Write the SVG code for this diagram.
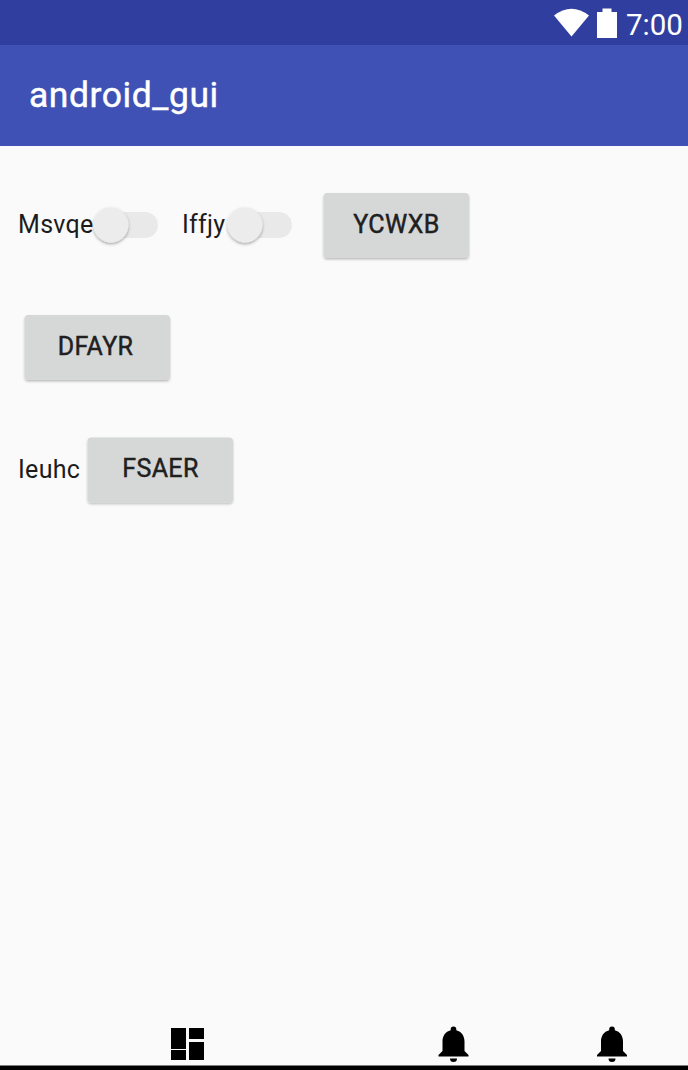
<svg xmlns="http://www.w3.org/2000/svg" width="688" height="1070" viewBox="0 0 688 1070">
<defs>
<filter id="sh" x="-30%" y="-30%" width="160%" height="170%"><feDropShadow dx="0" dy="1.5" stdDeviation="1.5" flood-color="#000" flood-opacity="0.35"/></filter>
<filter id="bs" x="-5%" y="-10%" width="110%" height="125%"><feDropShadow dx="0" dy="1.5" stdDeviation="0.8" flood-color="#000" flood-opacity="0.25"/></filter>
<g id="bell"><path d="M0 -18.500a2.800 2.800 0 0 1 2.800 2.800v0.900c5.400 1.400 8.200 5.800 8.200 11.300v9.500l4 4v1.600h-30v-1.600l4-4v-9.500c0-5.500 2.800-9.900 8.200-11.300v-0.900a2.800 2.800 0 0 1 2.800-2.800z"/><path d="M-3.500 13.500h7a3.500 3.500 0 0 1-7 0z"/></g>
</defs>
<style>
text{font-family:Roboto,"Noto Sans",sans-serif}
.lbl{font-size:25px;fill:#1c1c1c;letter-spacing:.3px}
.btn{font-size:25px;font-weight:400;fill:#202020;text-anchor:middle;letter-spacing:.4px;stroke:#202020;stroke-width:.45px}
.bx{fill:#d6d7d7}
.trk{fill:#e9e9e9}
.thb{fill:#ececec}
</style>
<rect width="688" height="1070" fill="#fafafa"/>
<rect id="statusbar" width="688" height="45" fill="#303f9f"/>
<rect id="appbar" y="45" width="688" height="101" fill="#3f51b5"/>
<g id="status-icons" fill="#fff">
<path d="M554 15.500Q571.500 2 589 15.500L571.500 36.500Z"/>
<path d="M597 12h5.500v-3.500h9v3.500h5.500v26h-20z"/>
<text x="626" y="35" font-size="29.500">7:00</text>
</g>
<text id="title" x="29" y="107" font-size="35.500" font-weight="400" fill="#fff" stroke="#fff" stroke-width=".45" letter-spacing=".55">android_gui</text>
<g id="row1-label1"><text class="lbl" x="18" y="233">Msvqe</text></g>
<g id="switch1"><rect class="trk" x="100" y="212" width="58" height="26" rx="13"/><circle class="thb" cx="111" cy="225" r="17.500" filter="url(#sh)"/></g>
<g id="row1-label2"><text class="lbl" x="182" y="233">Iffjy</text></g>
<g id="switch2"><rect class="trk" x="234" y="212" width="58" height="26" rx="13"/><circle class="thb" cx="245" cy="225" r="17.500" filter="url(#sh)"/></g>
<g id="btn-ycwxb"><rect class="bx" x="323.500" y="193" width="145.500" height="65" rx="4" filter="url(#bs)"/><text class="btn" x="396.500" y="233">YCWXB</text></g>
<g id="btn-dfayr"><rect class="bx" x="24.500" y="315" width="145.500" height="65" rx="4" filter="url(#bs)"/><text class="btn" x="95.500" y="355">DFAYR</text></g>
<g id="label-ieuhc"><text class="lbl" x="18" y="478">Ieuhc</text></g>
<g id="btn-fsaer"><rect class="bx" x="87.500" y="437.500" width="145.500" height="65" rx="4" filter="url(#bs)"/><text class="btn" x="160.500" y="477">FSAER</text></g>
<g id="nav-dashboard"><path d="M171 1028h15v21h-15zM189 1028h15v11h-15zM171 1050h15v10h-15zM189 1042h15v18h-15z" fill="#000"/></g>
<g id="nav-bell1" transform="translate(453.500 1045)"><use href="#bell"/></g>
<g id="nav-bell2" transform="translate(612 1045)"><use href="#bell"/></g>
<rect id="navbar-edge" y="1065.500" width="688" height="4.500" fill="#000"/>
</svg>
